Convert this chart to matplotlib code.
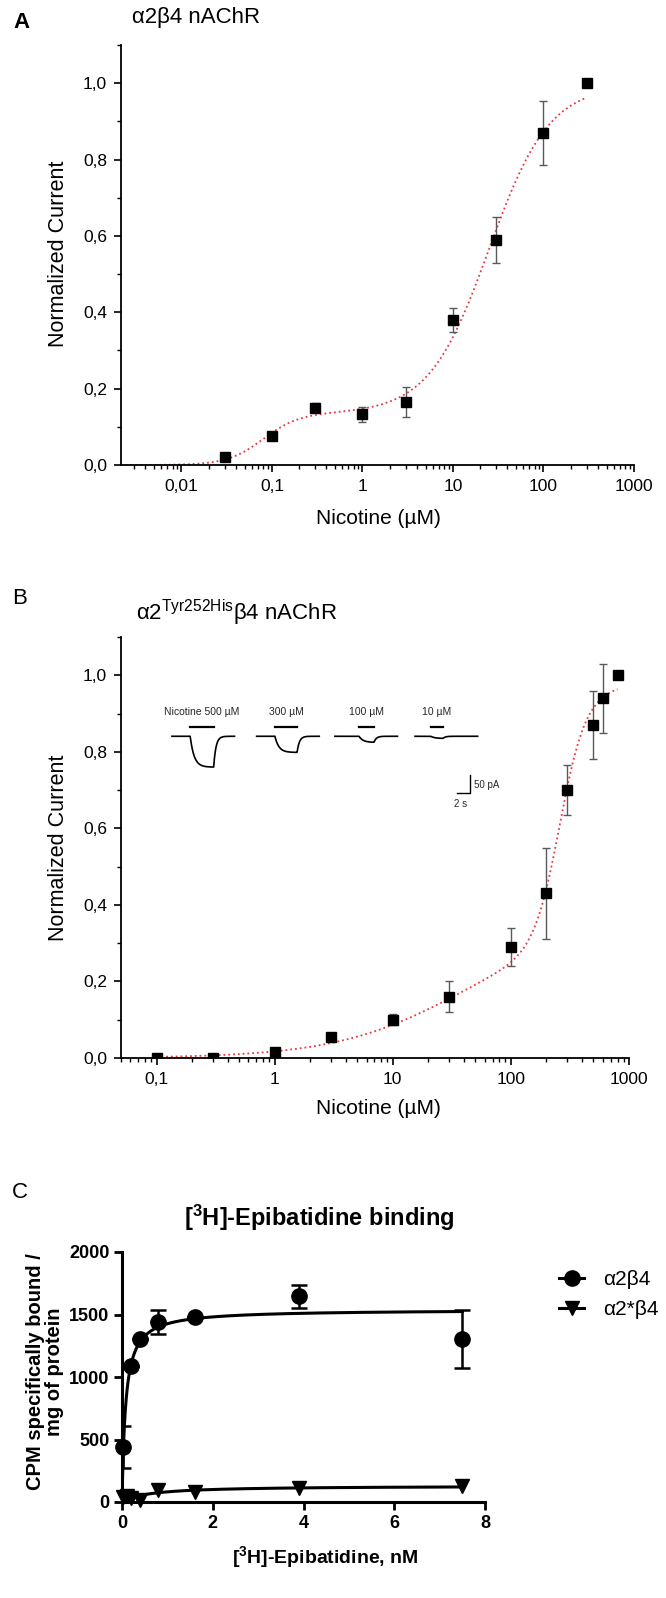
import numpy as np
import matplotlib
matplotlib.use('Agg')
import matplotlib.pyplot as plt
from matplotlib.ticker import MultipleLocator, FuncFormatter, LogLocator, NullFormatter

plt.rcParams['font.family'] = ['Liberation Sans', 'DejaVu Sans']
plt.rcParams['mathtext.fontset'] = 'custom'
plt.rcParams['mathtext.rm'] = 'Liberation Sans'
plt.rcParams['mathtext.bf'] = 'Liberation Sans:bold'

# --- panel A: a2b4 nAChR
nic_a = [0.03, 0.1, 0.3, 1, 3, 10, 30, 100, 300]
cur_a = [0.02, 0.075, 0.15, 0.133, 0.165, 0.38, 0.59, 0.87, 1.0]
err_a = [0.01, 0.01, 0.012, 0.02, 0.04, 0.032, 0.06, 0.083, 0.0]
# biphasic Hill fit: amp1, ec50_1, n1, amp2, ec50_2, n2
fit_a = [0.135, 0.08, 2.2, 0.86, 25, 1.3]
xtick_a = [0.01, 0.1, 1, 10, 100, 1000]
xlab_a = ['0,01', '0,1', '1', '10', '100', '1000']

# --- panel B: a2(Tyr252His)b4 nAChR
nic_b = [0.1, 0.3, 1, 3, 10, 30, 100, 200, 300, 500, 600, 800]
cur_b = [0.0, 0.0, 0.015, 0.055, 0.10, 0.16, 0.29, 0.43, 0.70, 0.87, 0.94, 1.0]
err_b = [0, 0, 0.005, 0.008, 0.015, 0.04, 0.05, 0.12, 0.065, 0.09, 0.09, 0]
fit_b = [0.35, 40, 0.8, 0.65, 260, 4]
xtick_b = [0.1, 1, 10, 100, 1000]
xlab_b = ['0,1', '1', '10', '100', '1000']

# inset current traces (s, pA)
trace_labels = ['Nicotine 500 µM', '300 µM', '100 µM', '10 µM']
trace_amp = [86, 45, 17, 6]
trace_start = [2.6, 15.6, 27.6, 39.9]
drug_on = [5.4, 18.4, 31.3, 42.3]
drug_off = [9.0, 21.8, 33.6, 44.2]
trace_len = 9.6

# --- panel C: [3H]-epibatidine binding
epi_wt = [0.03, 0.2, 0.4, 0.8, 1.6, 3.9, 7.5]
cpm_wt = [440, 1090, 1305, 1440, 1480, 1645, 1305]
sem_wt = [170, 0, 0, 95, 0, 95, 230]
epi_mut = [0.03, 0.1, 0.2, 0.4, 0.8, 1.6, 3.9, 7.5]
cpm_mut = [40, 50, 35, 20, 100, 80, 115, 125]
fit_wt = [1540, 0.08]   # Bmax, Kd
fit_mut = [130, 0.6]


def hill2(x, p):
    a1, e1, n1, a2, e2, n2 = p
    return a1 / (1 + (e1 / x) ** n1) + a2 / (1 + (e2 / x) ** n2)


W, H = 666, 1598


def box(l, t, r, b):
    return [l / W, 1 - b / H, (r - l) / W, (b - t) / H]


def fx(x):
    return x / W


def fy(y):
    return 1 - y / H


fig = plt.figure(figsize=(6.66, 15.98), dpi=100)
red = '#e8393f'


def dose_panel(ax, x, y, e, p, xmin, xfit, ticks, labels):
    xs = np.logspace(np.log10(xfit[0]), np.log10(xfit[1]), 300)
    ax.plot(xs, hill2(xs, p), ':', color=red, lw=1.3)
    ax.errorbar(x, y, yerr=e, fmt='none', ecolor='0.35', elinewidth=1, capsize=3)
    ax.plot(x, y, 's', color='black', ms=7.5)
    ax.set_xscale('log')
    ax.set_xlim(xmin, 1000)
    ax.set_ylim(0, 1.1)
    ax.set_xticks(ticks)
    ax.set_xticklabels(labels)
    ax.xaxis.set_minor_locator(LogLocator(base=10, subs=np.arange(2, 10)))
    ax.xaxis.set_minor_formatter(NullFormatter())
    ax.set_yticks([0, 0.2, 0.4, 0.6, 0.8, 1.0])
    ax.yaxis.set_minor_locator(MultipleLocator(0.1))
    ax.yaxis.set_major_formatter(FuncFormatter(lambda v, _: f'{v:.1f}'.replace('.', ',')))
    for s in ['top', 'right']:
        ax.spines[s].set_visible(False)
    for s in ['left', 'bottom']:
        ax.spines[s].set_linewidth(1.3)
    ax.tick_params(which='major', length=5, width=1.2, labelsize=12.5, pad=5)
    ax.tick_params(which='minor', length=3, width=1.0)


# A
axA = fig.add_axes(box(121, 45, 634, 465))
dose_panel(axA, nic_a, cur_a, err_a, fit_a, 0.00215, (0.00215, 300), xtick_a, xlab_a)
fig.text(fx(13), fy(22), 'A', fontsize=16, fontweight='bold', va='center')
fig.text(fx(132), fy(17), 'α2β4 nAChR', fontsize=16, va='center')
fig.text(fx(59), fy(254), 'Normalized Current', fontsize=15.5, rotation=90, ha='center', va='center')
fig.text(fx(378), fy(518), 'Nicotine (µM)', fontsize=15, ha='center', va='center')

# B
axB = fig.add_axes(box(121, 637, 629, 1058))
dose_panel(axB, nic_b, cur_b, err_b, fit_b, 0.05, (0.1, 800), xtick_b, xlab_b)
fig.text(fx(12), fy(598), 'B', fontsize=16, va='center')
fig.text(fx(136), fy(613), r'α2$^{\rm Tyr252His}$β4 nAChR', fontsize=16, va='center')
fig.text(fx(59), fy(848), 'Normalized Current', fontsize=15.5, rotation=90, ha='center', va='center')
fig.text(fx(378), fy(1108), 'Nicotine (µM)', fontsize=15, ha='center', va='center')

# inset traces
axI = fig.add_axes(box(155, 704, 520, 808))
axI.set_xlim(0, 56)
axI.set_ylim(-200, 90)
axI.axis('off')
tau_on, tau_off = 0.6, 0.35
for lab, amp, t0, on, off in zip(trace_labels, trace_amp, trace_start, drug_on, drug_off):
    t = np.linspace(t0, t0 + trace_len, 400)
    i = np.zeros_like(t)
    m1 = (t >= on) & (t < off)
    i[m1] = -amp * (1 - np.exp(-(t[m1] - on) / tau_on))
    i_off = -amp * (1 - np.exp(-(off - on) / tau_on))
    m2 = t >= off
    i[m2] = i_off * np.exp(-(t[m2] - off) / tau_off)
    axI.plot(t, i, color='black', lw=1.2)
    axI.plot([on, off], [25, 25], color='black', lw=1.6)
    axI.text((on + off) / 2, 68, lab, fontsize=7.5, ha='center', va='center', color='0.15')
# scale bar 2 s / 50 pA
axI.plot([46.3, 48.3, 48.3], [-158, -158, -108], color='black', lw=1)
axI.text(49.0, -136, '50 pA', fontsize=7, va='center', color='0.15')
axI.text(46.9, -190, '2 s', fontsize=7, ha='center', va='center', color='0.15')

# C
axC = fig.add_axes(box(122, 1252, 485, 1502))
xs = np.linspace(0, 7.5, 400)
axC.plot(xs, fit_wt[0] * xs / (fit_wt[1] + xs), color='black', lw=2.2)
axC.plot(xs, fit_mut[0] * xs / (fit_mut[1] + xs), color='black', lw=2.2)
axC.errorbar(epi_wt, cpm_wt, yerr=sem_wt, fmt='none', ecolor='black', elinewidth=1.8, capsize=6, capthick=1.8)
axC.plot(epi_wt, cpm_wt, 'o', color='black', ms=11, clip_on=False)
axC.plot(epi_mut, cpm_mut, 'v', color='black', ms=10, clip_on=False)
axC.set_xlim(0, 8)
axC.set_ylim(0, 2000)
axC.set_xticks([0, 2, 4, 6, 8])
axC.set_yticks([0, 500, 1000, 1500, 2000])
for s in ['top', 'right']:
    axC.spines[s].set_visible(False)
for s in ['left', 'bottom']:
    axC.spines[s].set_linewidth(2.2)
axC.tick_params(length=6, width=2.0, labelsize=13, pad=3)
for lbl in axC.get_xticklabels() + axC.get_yticklabels():
    lbl.set_fontweight('bold')
fig.text(fx(12), fy(1193), 'C', fontsize=16, va='center')
fig.text(fx(319), fy(1218), r'[$\mathbf{^3}$H]-Epibatidine binding', fontsize=17, fontweight='bold',
         ha='center', va='center')
fig.text(fx(45), fy(1372), 'CPM specifically bound /\nmg of protein', fontsize=14.5, fontweight='bold',
         rotation=90, ha='center', va='center', linespacing=1.0)
fig.text(fx(325), fy(1557), r'[$\mathbf{^3}$H]-Epibatidine, nM', fontsize=14, fontweight='bold',
         ha='center', va='center')

# legend: line+marker handles
h1, = axC.plot([], [], '-o', color='black', ms=11, lw=2.2)
h2, = axC.plot([], [], '-v', color='black', ms=10, lw=2.2)
fig.legend([h1, h2], ['α2β4', 'α2*β4'], loc='upper left', bbox_to_anchor=(fx(559), fy(1270)),
           frameon=False, fontsize=15, handlelength=1.2, handletextpad=0.9, labelspacing=0.55,
           borderpad=0, borderaxespad=0)

fig.savefig('out.png', dpi=100)
